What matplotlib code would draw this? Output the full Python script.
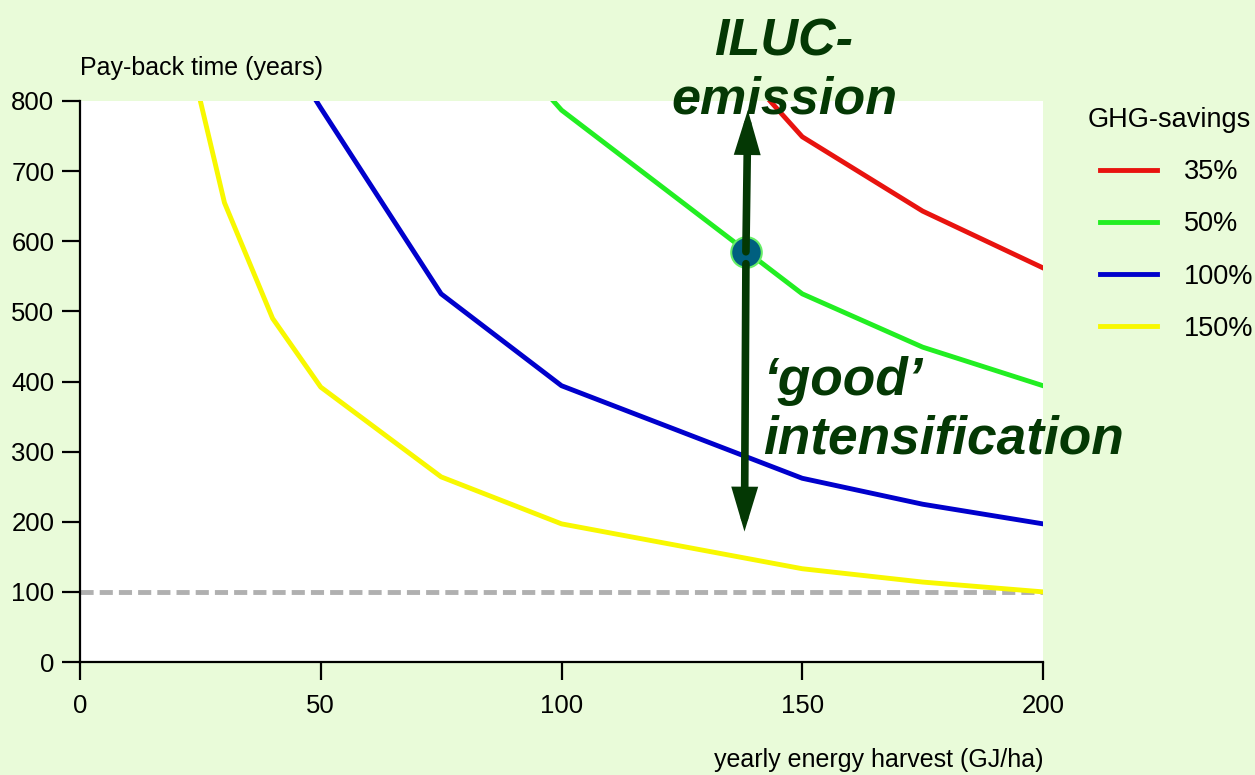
import matplotlib
matplotlib.use("Agg")
import matplotlib.pyplot as plt

plt.rcParams['font.family'] = ['Liberation Sans', 'DejaVu Sans']

# Data (x = yearly energy harvest GJ/ha, y = pay-back time years)
x_35 = [125, 150, 175, 200]
y_35 = [940, 749, 643, 562]
x_50 = [75, 100, 150, 175, 200]
y_50 = [980, 787, 525, 449, 394]
x_100 = [40, 50, 75, 100, 150, 175, 200]
y_100 = [900, 790, 525, 394, 262, 225, 197]
x_150 = [20, 25, 30, 40, 50, 75, 100, 150, 175, 200]
y_150 = [1000, 800, 655, 490, 392, 264, 197, 133, 114, 100]
series_labels = ['35%', '50%', '100%', '150%']
series_colors = ['#e8130f', '#22ee22', '#0000cc', '#f8f800']
threshold = 100
point_x, point_y = 138.3, 585
xticks = [0, 50, 100, 150, 200]
yticks = [0, 100, 200, 300, 400, 500, 600, 700, 800]

bg = '#e9fbd9'
dark = '#043804'

fig = plt.figure(figsize=(12.55, 7.75), dpi=100, facecolor=bg)
W, H = 1255, 775
ax = fig.add_axes([80 / W, (H - 662) / H, (1043 - 80) / W, (662 - 101) / H])
ax.set_facecolor('white')

ax.axhline(threshold, color='#b0b0b0', lw=3.5, ls=(0, (2.7, 1.25)), zorder=2)
handles = []
for xs, ys, lab, c in zip([x_35, x_50, x_100, x_150], [y_35, y_50, y_100, y_150],
                          series_labels, series_colors):
    h, = ax.plot(xs, ys, color=c, lw=3.5, label=lab, solid_joinstyle='round', zorder=3)
    handles.append(h)

ax.set_xlim(0, 200)
ax.set_ylim(0, 800)
ax.set_xticks(xticks)
ax.set_yticks(yticks)
ax.spines['top'].set_visible(False)
ax.spines['right'].set_visible(False)
for s in ['left', 'bottom']:
    ax.spines[s].set_linewidth(1.6)
ax.tick_params(direction='out', length=13, width=1.6, labelsize=18.5)
ax.tick_params(axis='x', pad=10)
ax.tick_params(axis='y', pad=5.5)

# marker and arrows
ax.plot([point_x], [point_y], 'o', ms=22, mfc='#005f7f', mec='#66ee66', mew=1.5, zorder=5)
astyle = '-|>,head_length=1.0,head_width=0.3'
ax.annotate('', xy=(138.7, 787), xytext=(138.3, point_y),
            arrowprops=dict(arrowstyle=astyle, lw=5.5, joinstyle='miter',
                            color=dark, mutation_scale=20, shrinkA=0, shrinkB=0),
            zorder=6, annotation_clip=False)
ax.annotate('', xy=(138.0, 186), xytext=(138.3, 568),
            arrowprops=dict(arrowstyle=astyle, lw=5.5, joinstyle='miter',
                            color=dark, mutation_scale=20, shrinkA=0, shrinkB=0),
            zorder=6, annotation_clip=False)

fig.text(784 / W, 1 - 17 / H, 'ILUC-\nemission', ha='center', va='top', fontsize=37.5,
         fontweight='bold', fontstyle='italic', color=dark, linespacing=1.25, zorder=10)
fig.text(763 / W, 1 - 356 / H, '\u2018good\u2019\nintensification', ha='left', va='top',
         fontsize=38.3, fontweight='bold', fontstyle='italic', color=dark,
         linespacing=1.22, zorder=10)

fig.text(80 / W, 1 - 68 / H, 'Pay-back time (years)', ha='left', va='center', fontsize=18)
fig.text(1043 / W, 1 - 760 / H, 'yearly energy harvest (GJ/ha)', ha='right', va='center',
         fontsize=18)
fig.text(1088 / W, 1 - 120 / H, 'GHG-savings', ha='left', va='center', fontsize=19.5)

leg = ax.legend(handles=handles, loc='upper left', bbox_to_anchor=(1100 / W, 1 - 159 / H),
                bbox_transform=fig.transFigure, frameon=False, borderpad=0,
                borderaxespad=0, fontsize=19.5, handlelength=2.1, handletextpad=1.0,
                labelspacing=0.97)

fig.savefig('out.png', dpi=100, facecolor=bg)
